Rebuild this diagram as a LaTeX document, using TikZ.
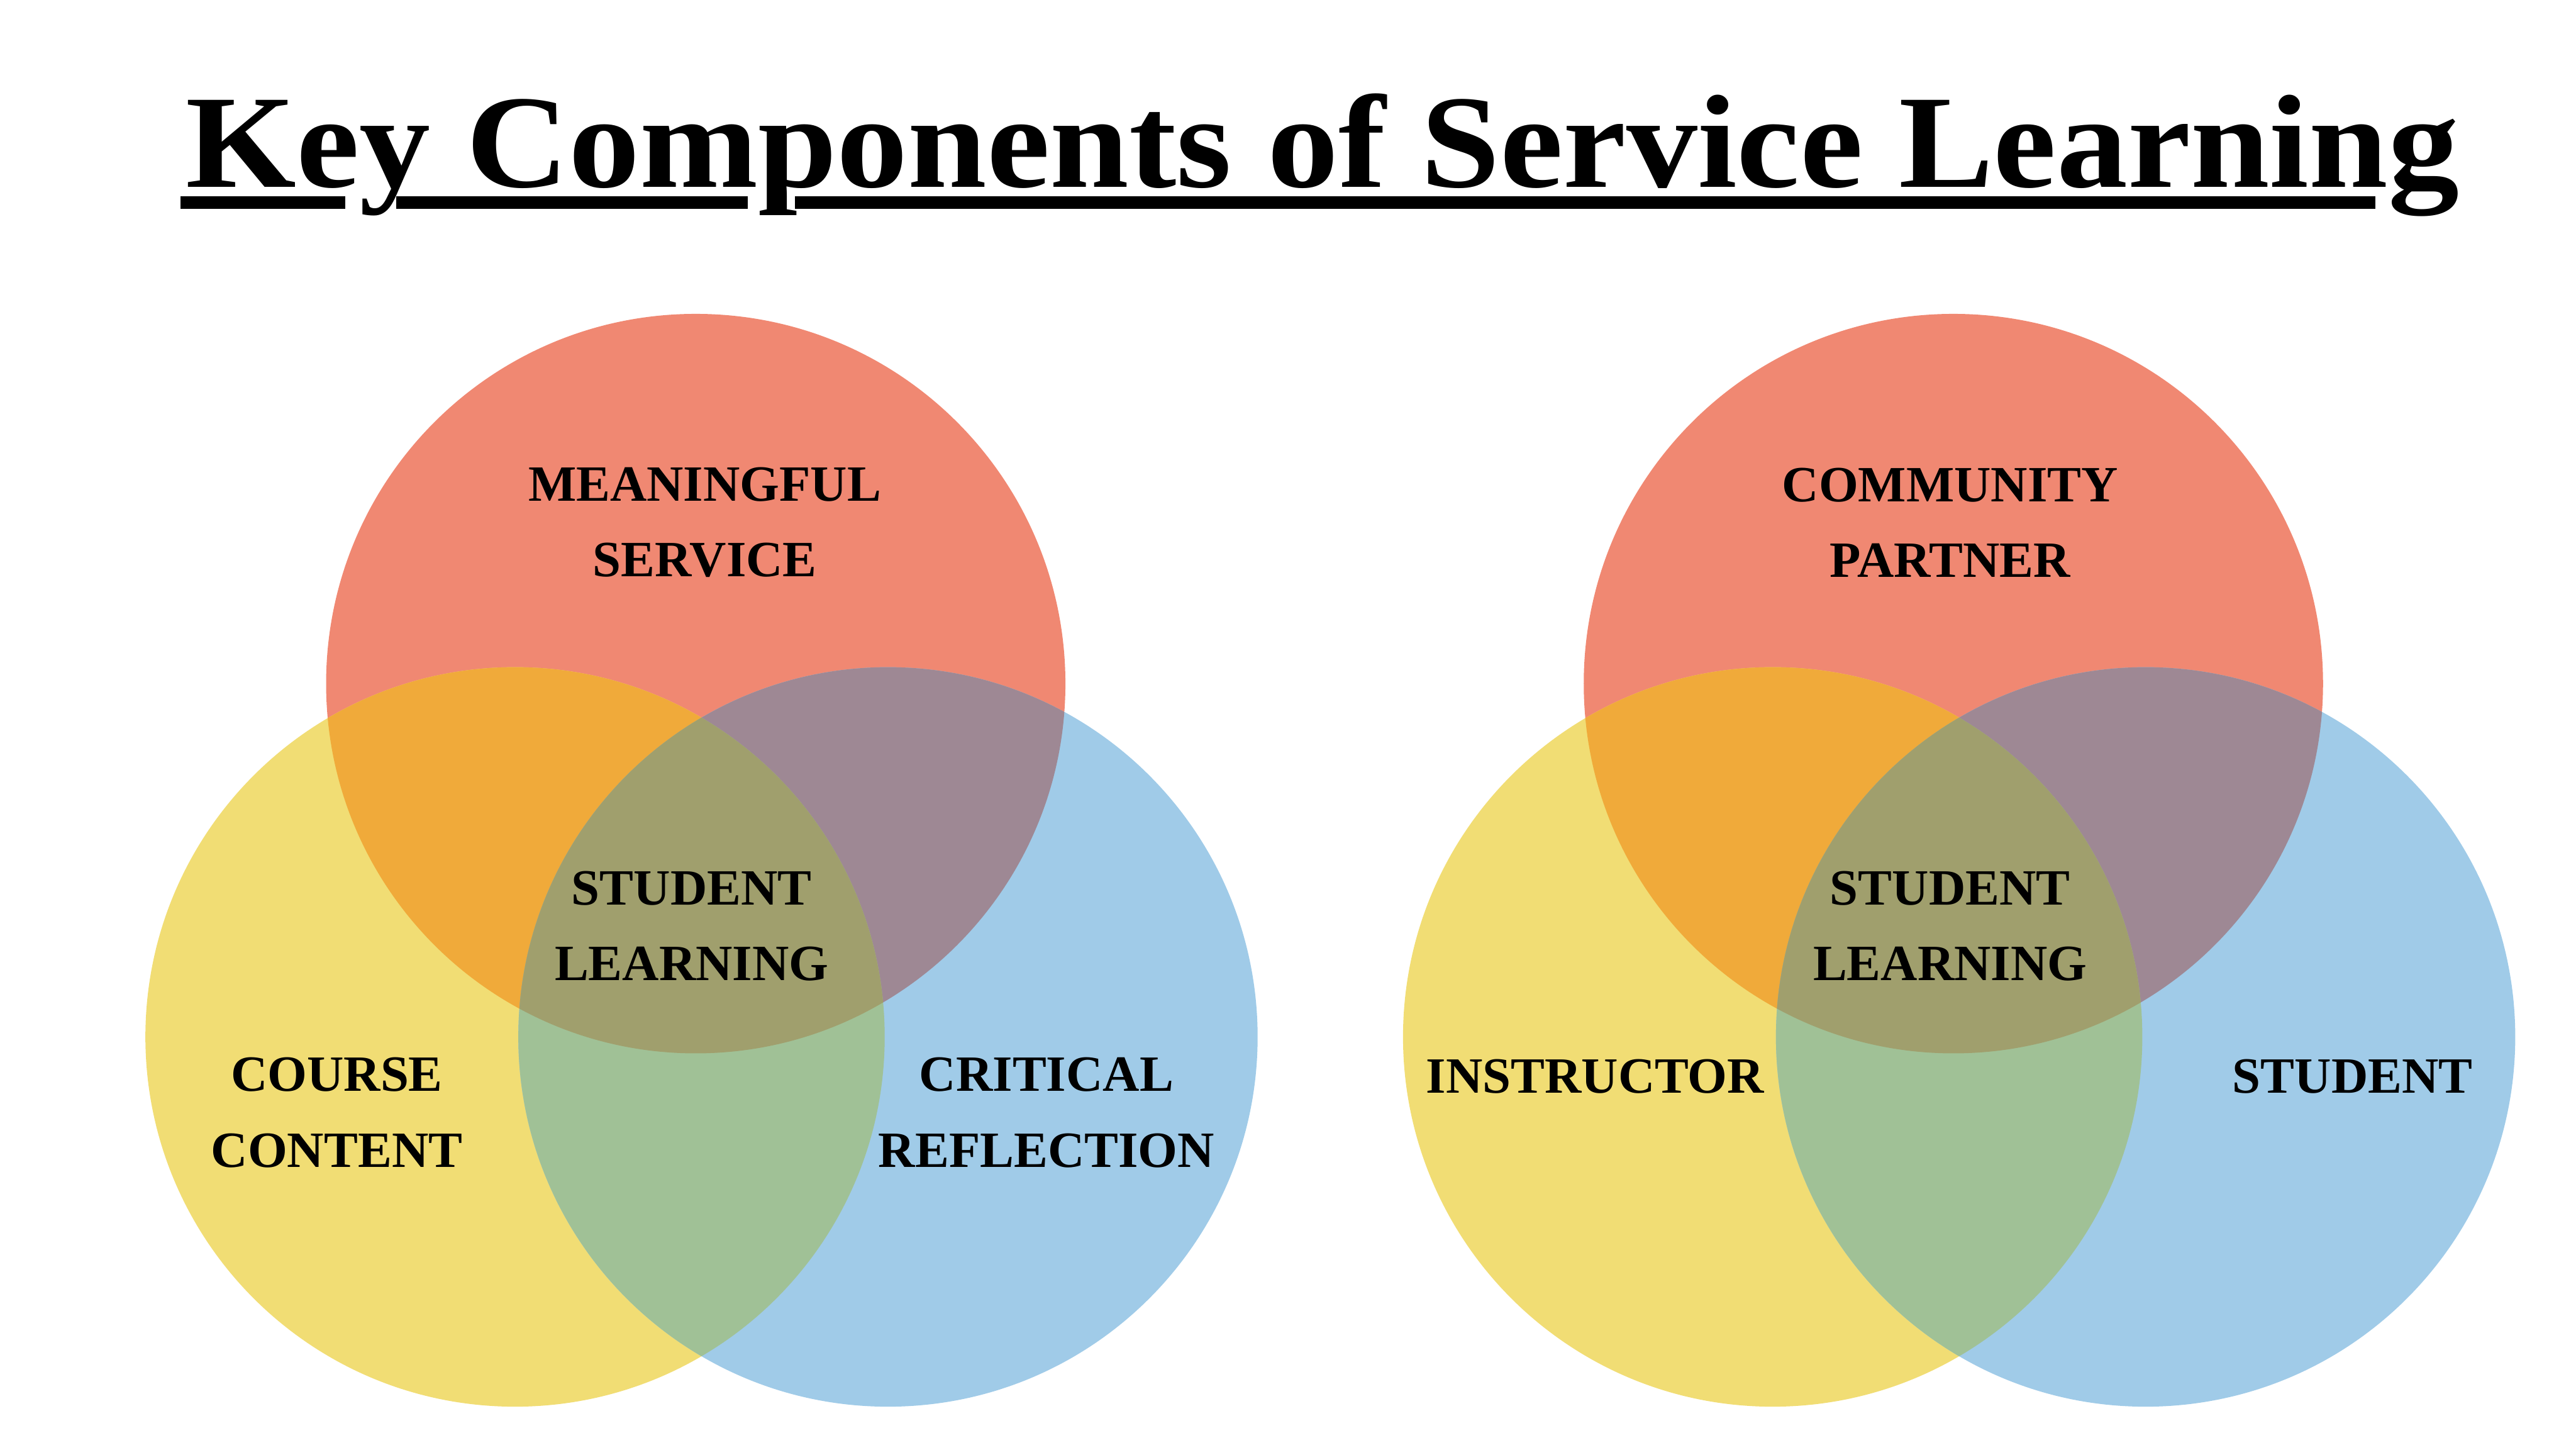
\documentclass[tikz,border=0pt]{standalone}
\usepackage{fontspec}
\setmainfont{Liberation Serif}
\usetikzlibrary{positioning}
\definecolor{vennred}{HTML}{F08872}
\definecolor{vennyellow}{HTML}{F1DD74}
\definecolor{vennblue}{HTML}{A0CBE8}
\definecolor{vennorange}{HTML}{F0AA3A}
\definecolor{vennpurple}{HTML}{9E8894}
\definecolor{venngreen}{HTML}{A0C196}
\definecolor{vennolive}{HTML}{A09F6D}

\begin{document}
\begin{tikzpicture}[
    lbl/.style={font=\bfseries\fontsize{8.8}{13.1}\selectfont, align=center, inner sep=0pt},
    heading/.style={font=\bfseries\fontsize{23}{28}\selectfont, inner sep=0pt, xscale=1.07, transform shape}
  ]
    \useasboundingbox (0,0) rectangle (15.68,8.82);

    % title, the underline stops short of the descenders
    \node[heading, anchor=base] (title) at (8.05,7.68) {Key Components of Service Learning};
    \foreach \a/\b in {1.10/2.10, 2.41/4.55, 4.84/14.46}
      \fill (\a,7.55) rectangle (\b,7.625);

    % the two sets of circles
    \foreach \dx in {0,7.655} {
      \begin{scope}[xshift=\dx cm]
        \coordinate (red) at (4.235,4.66);
        \coordinate (yel) at (3.135,2.51);
        \coordinate (blu) at (5.405,2.51);
        \fill[vennred] (red) circle (2.25);
        \fill[vennyellow] (yel) circle (2.25);
        \fill[vennblue] (blu) circle (2.25);
        \begin{scope}
          \clip (red) circle (2.25);
          \fill[vennorange] (yel) circle (2.25);
          \fill[vennpurple] (blu) circle (2.25);
        \end{scope}
        \begin{scope}
          \clip (yel) circle (2.25);
          \fill[venngreen] (blu) circle (2.25);
          \clip (red) circle (2.25);
          \fill[vennolive] (blu) circle (2.25);
        \end{scope}
      \end{scope}
    }

    % left diagram
    \node[lbl] (service) at (4.29,5.64) {MEANINGFUL\\SERVICE};
    \node[lbl] (learnL) at (4.21,3.185) {STUDENT\\LEARNING};
    \node[lbl] (course) at (2.05,2.05) {COURSE\\CONTENT};
    \node[lbl] (reflect) at (6.37,2.05) {CRITICAL\\REFLECTION};

    % right diagram
    \node[lbl] (partner) at (11.87,5.64) {COMMUNITY\\PARTNER};
    \node[lbl] (learnR) at (11.87,3.185) {STUDENT\\LEARNING};
    \node[lbl] (instr) at (9.71,2.27) {INSTRUCTOR};
    \node[lbl] (student) at (14.32,2.27) {STUDENT};
\end{tikzpicture}
\end{document}
